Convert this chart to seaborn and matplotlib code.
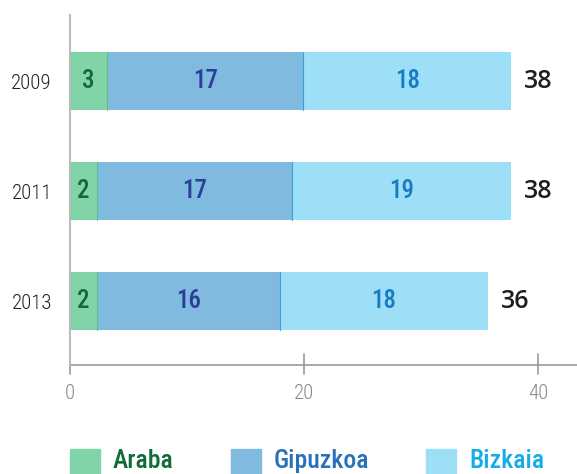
import matplotlib
matplotlib.use("Agg")
import matplotlib.pyplot as plt
import seaborn as sns
import pandas as pd
from matplotlib.patches import Rectangle

sns.set_style("white")
FONT = "Roboto Condensed"
plt.rcParams["font.family"] = [FONT, "DejaVu Sans"]

years = ["2009", "2011", "2013"]
araba = [3.2, 2.3, 2.3]
gipuzkoa = [16.7, 16.7, 15.6]
bizkaia = [17.8, 18.7, 17.8]
series = ["Araba", "Gipuzkoa", "Bizkaia"]

fill = {"Araba": "#80d4a8", "Gipuzkoa": "#80badf", "Bizkaia": "#9cdff7"}
txt = {"Araba": "#0f6b3b", "Gipuzkoa": "#2b3f94", "Bizkaia": "#1a7bc4"}
leg_txt = {"Araba": "#116b3a", "Gipuzkoa": "#2a72b8", "Bizkaia": "#14ade8"}

df = pd.DataFrame({"year": years, "Araba": araba, "Gipuzkoa": gipuzkoa, "Bizkaia": bizkaia})
df["c1"] = df["Araba"]
df["c2"] = df["c1"] + df["Gipuzkoa"]
df["c3"] = df["c2"] + df["Bizkaia"]

fig = plt.figure(figsize=(5.77, 4.74), dpi=100)
ax = fig.add_axes([70 / 577, 109 / 474, 1 - 70 / 577, 350 / 474])

for col, s in [("c3", "Bizkaia"), ("c2", "Gipuzkoa"), ("c1", "Araba")]:
    sns.barplot(data=df, x=col, y="year", order=years, orient="h", color=fill[s],
                saturation=1, width=0.53, ax=ax, edgecolor="none")

# thin segment borders
for col, ec in [("c1", "#5fbf8e"), ("c2", "#3aa0d8")]:
    for i, v in enumerate(df[col]):
        ax.plot([v, v], [i - 0.265, i + 0.265], color=ec, lw=0.8)

for i in range(len(years)):
    starts = [0, df["c1"][i], df["c2"][i]]
    for s, st in zip(series, starts):
        v = df[s][i]
        ax.text(st + v / 2, i, f"{round(v)}", ha="center", va="center",
                fontsize=18, color=txt[s], fontweight=500)
    ax.text(df["c3"][i] + 1.1, i, f"{round(df['c3'][i])}", ha="left", va="center",
            fontsize=18, color="#1e1e1e", fontweight=600,
            family=["Open Sans", "DejaVu Sans"])

ax.set_xlim(0, 43.3)
ax.set_ylim(2.58, -0.6)
ax.set_xlabel("")
ax.set_ylabel("")
ax.set_xticks([0, 20, 40])
ax.set_xticklabels(["0", "20", "40"], color="#888888", fontsize=15, fontweight=300)
ax.tick_params(axis="x", length=0, pad=14)
ax.tick_params(axis="y", length=0, pad=13, labelsize=15, labelcolor="#222222")
for lab in ax.get_yticklabels():
    lab.set_fontweight(300)
for sp in ["top", "right", "bottom"]:
    ax.spines[sp].set_visible(False)
ax.spines["left"].set_color("#bbbbbb")
ax.spines["left"].set_linewidth(1.5)
ax.spines["left"].set_bounds(-0.6, 2.58)
# x axis baseline and ticks crossing it
ax.axhline(2.58, color="#999999", lw=1.2, clip_on=False)
for t in [20, 40]:
    ax.plot([t, t], [2.48, 2.66], color="#999999", lw=1.2, clip_on=False)
ax.plot([0, 0], [2.58, 2.66], color="#999999", lw=1.2, clip_on=False)

# legend
lx = [70, 231, 426]
for x0, s in zip(lx, series):
    fig.add_artist(Rectangle((x0 / 577, 0 / 474), 30 / 577, 25 / 474,
                             transform=fig.transFigure, color=fill[s]))
    fig.text((x0 + 43) / 577, 13 / 474, s, color=leg_txt[s], fontsize=18.5,
             fontweight=500, va="center", ha="left")

fig.savefig("out.png", dpi=100)
